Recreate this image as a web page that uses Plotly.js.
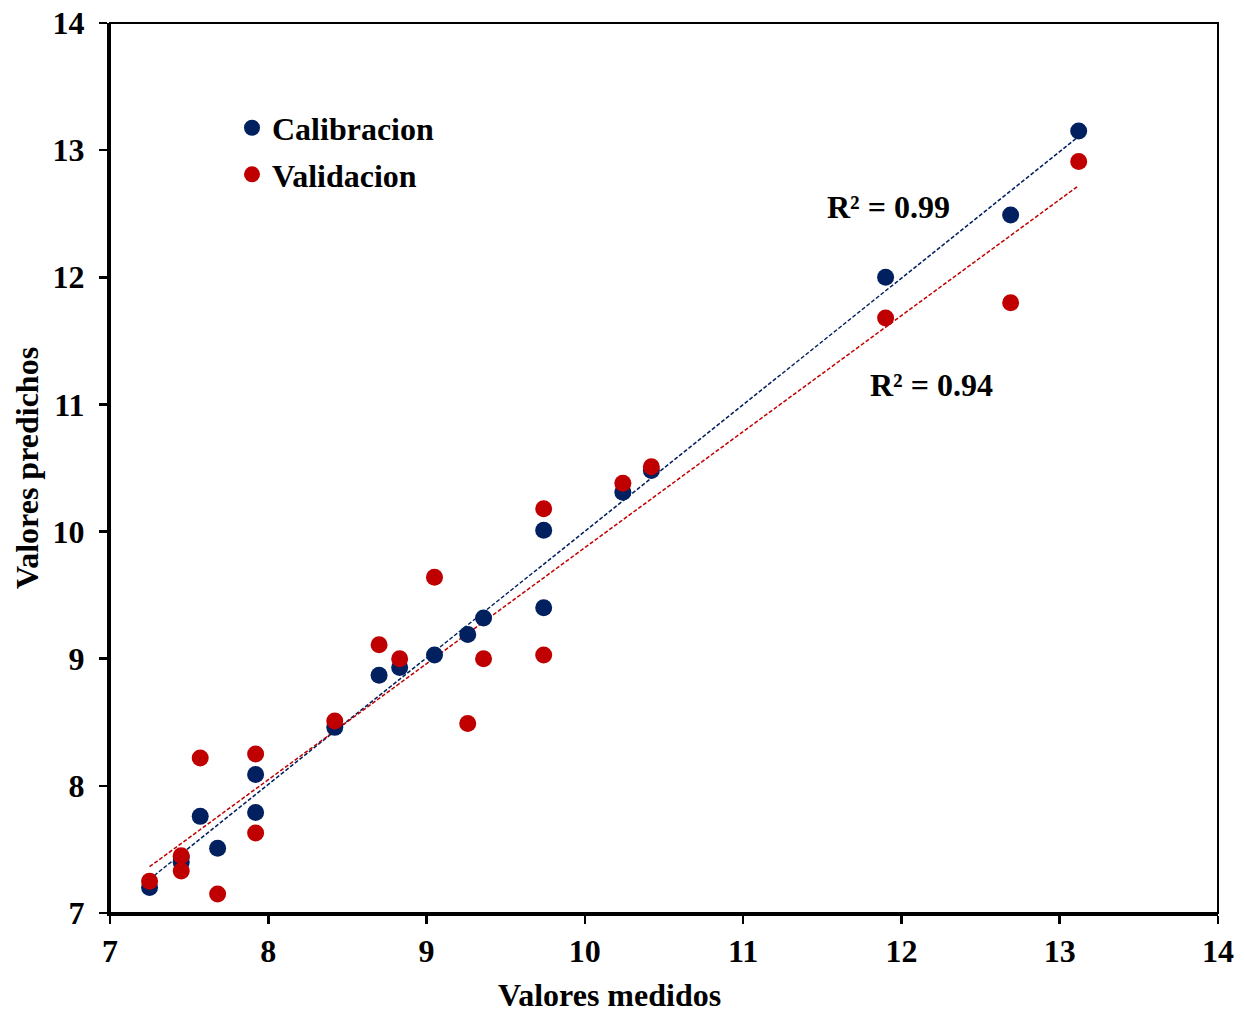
<!DOCTYPE html>
<html>
<head>
<meta charset="utf-8">
<script src="https://cdn.plot.ly/plotly-3.0.1.min.js"></script>
<style>html,body{margin:0;padding:0;background:#fff;}#chart{width:1245px;height:1015px;}</style>
</head>
<body>
<div id="chart"></div>
<script>
// Measured values (x) shared by both series
const calX = [7.25, 7.45, 7.45, 7.57, 7.68, 7.92, 7.92, 8.42, 8.70, 8.83, 9.05, 9.26, 9.36, 9.74, 9.74, 10.24, 10.42, 11.90, 12.69, 13.12];
const calY = [7.20, 7.40, 7.44, 7.76, 7.51, 8.09, 7.79, 8.46, 8.87, 8.93, 9.03, 9.19, 9.32, 10.01, 9.40, 10.31, 10.48, 12.00, 12.49, 13.15];
const valX = [7.25, 7.45, 7.45, 7.57, 7.68, 7.92, 7.92, 8.42, 8.70, 8.83, 9.05, 9.26, 9.36, 9.74, 9.74, 10.24, 10.42, 11.90, 12.69, 13.12];
const valY = [7.25, 7.45, 7.33, 8.22, 7.15, 8.25, 7.63, 8.51, 9.11, 9.00, 9.64, 8.49, 9.00, 10.18, 9.03, 10.38, 10.51, 11.68, 11.80, 12.91];
const seriesNames = ["Calibracion", "Validacion"];
const r2Labels = ["R² = 0.99", "R² = 0.94"];
const axisTitles = ["Valores medidos", "Valores predichos"];
const tickVals = [7, 8, 9, 10, 11, 12, 13, 14];

const blue = "#002060", red = "#C00000";
const font = "Liberation Serif, Times New Roman, serif";
const bold = (size) => ({ family: font, size: size, color: "#000", weight: "bold" });

function fit(xs, ys) {
  const n = xs.length;
  const mx = xs.reduce((a, b) => a + b, 0) / n;
  const my = ys.reduce((a, b) => a + b, 0) / n;
  let sxy = 0, sxx = 0;
  for (let i = 0; i < n; i++) { sxy += (xs[i] - mx) * (ys[i] - my); sxx += (xs[i] - mx) ** 2; }
  const b = sxy / sxx, a = my - b * mx;
  const x0 = Math.min(...xs), x1 = Math.max(...xs);
  return { x: [x0, x1], y: [a + b * x0, a + b * x1] };
}
const fc = fit(calX, calY), fv = fit(valX, valY);

const traces = [
  { x: fc.x, y: fc.y, mode: "lines", line: { color: blue, width: 1.5, dash: "4px,2px" }, showlegend: false, hoverinfo: "skip" },
  { x: fv.x, y: fv.y, mode: "lines", line: { color: red, width: 1.5, dash: "4px,2px" }, showlegend: false, hoverinfo: "skip" },
  { x: calX, y: calY, mode: "markers", name: seriesNames[0], legendgroup: "a", marker: { color: blue, size: 17 } },
  { x: valX, y: valY, mode: "markers", name: seriesNames[1], legendgroup: "b", marker: { color: red, size: 17 } }
];

const axisCommon = {
  range: [7, 14], tickvals: tickVals, ticks: "outside", ticklen: 8, tickwidth: 2.5, tickcolor: "#000",
  showline: true, linewidth: 3, linecolor: "#000", showgrid: false, zeroline: false,
  tickfont: bold(32)
};

const layout = {
  width: 1245, height: 1015,
  margin: { l: 110, r: 27, t: 23, b: 102 },
  paper_bgcolor: "#fff", plot_bgcolor: "#fff",
  font: { family: font, color: "#000" },
  xaxis: Object.assign({}, axisCommon, { ticklabelstandoff: 0 }),
  yaxis: Object.assign({}, axisCommon, { ticklabelstandoff: 8 }),
  showlegend: true,
  legend: {
    x: 0.1101, y: 0.913, xanchor: "left", yanchor: "top",
    font: bold(32),
    bgcolor: "rgba(0,0,0,0)", traceorder: "grouped", tracegroupgap: 2
  },
  annotations: [
    { x: 11.92, y: 12.55, xref: "x", yref: "y", text: r2Labels[0], showarrow: false, font: bold(32) },
    { x: 12.19, y: 11.15, xref: "x", yref: "y", text: r2Labels[1], showarrow: false, font: bold(32) },
    { x: 0.4504, y: -0.1146, xref: "paper", yref: "paper", xanchor: "center", yanchor: "bottom", text: axisTitles[0], showarrow: false, font: bold(32) },
    { x: -0.0749, y: 0.5, xref: "paper", yref: "paper", xanchor: "center", yanchor: "middle", textangle: -90, text: axisTitles[1], showarrow: false, font: bold(32) }
  ],
  shapes: [
    { type: "rect", xref: "paper", yref: "paper", x0: 0, x1: 1, y0: 0, y1: 1, line: { color: "#000", width: 2 } }
  ]
};

Plotly.newPlot("chart", traces, layout, { staticPlot: true, displayModeBar: false });
</script>
</body>
</html>
